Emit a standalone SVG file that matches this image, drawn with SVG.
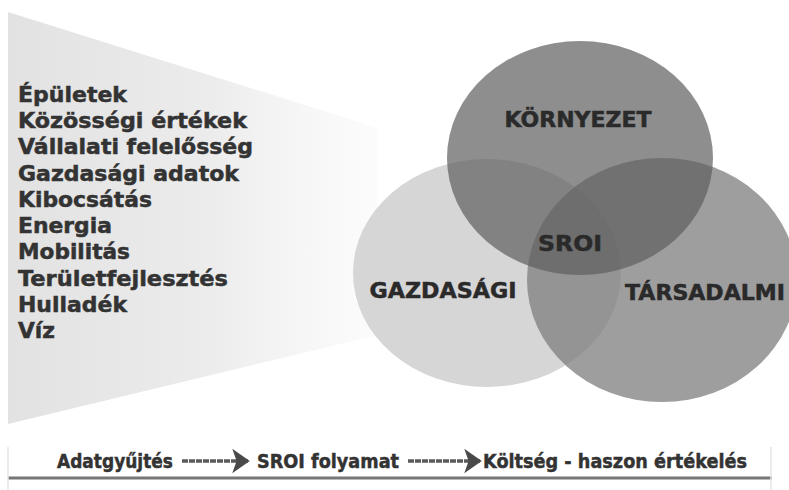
<svg xmlns="http://www.w3.org/2000/svg" width="789" height="490" viewBox="0 0 789 490">
<defs>
<style>
.lst{font-family:"DejaVu Sans",Verdana,sans-serif;font-weight:bold;font-size:21px;fill:#333;stroke:#333;stroke-width:0.5}
.lbl{font-family:"DejaVu Sans",Verdana,sans-serif;font-weight:bold;font-size:21px;fill:#2a2a2a;stroke:#2a2a2a;stroke-width:0.5}
.bot{font-family:"DejaVu Sans",Verdana,sans-serif;font-weight:bold;font-size:20px;fill:#333;stroke:#333;stroke-width:0.5}
.conn{stroke:#5a5a5a;stroke-width:3.5;stroke-dasharray:6 1;fill:none}
</style>
<linearGradient id="fan" x1="0" y1="0" x2="1" y2="0">
<stop offset="0" stop-color="#e2e2e2"/>
<stop offset="0.55" stop-color="#ececec"/>
<stop offset="1" stop-color="#f4f4f4" stop-opacity="0.3"/>
</linearGradient>
<marker id="ah" viewBox="0 0 10 10" preserveAspectRatio="none" refX="9" refY="5" markerWidth="5" markerHeight="7" markerUnits="strokeWidth" orient="auto">
<path d="M0,0 L10,5 L0,10 L2.5,5 Z" fill="#4a4a4a"/>
</marker>
</defs>
<rect width="789" height="490" fill="#ffffff"/>
<g id="fan-bg">
<polygon points="8,12 378,128 378,335 8,424" fill="url(#fan)"/>
</g>
<g id="list">
<text class="lst" x="18" y="102" textLength="109" lengthAdjust="spacingAndGlyphs">Épületek</text>
<text class="lst" x="18" y="128" textLength="229" lengthAdjust="spacingAndGlyphs">Közösségi értékek</text>
<text class="lst" x="18" y="154" textLength="235" lengthAdjust="spacingAndGlyphs">Vállalati felelősség</text>
<text class="lst" x="18" y="181" textLength="221" lengthAdjust="spacingAndGlyphs">Gazdasági adatok</text>
<text class="lst" x="18" y="207" textLength="134" lengthAdjust="spacingAndGlyphs">Kibocsátás</text>
<text class="lst" x="18" y="233" textLength="94" lengthAdjust="spacingAndGlyphs">Energia</text>
<text class="lst" x="18" y="259" textLength="112" lengthAdjust="spacingAndGlyphs">Mobilitás</text>
<text class="lst" x="18" y="286" textLength="210" lengthAdjust="spacingAndGlyphs">Területfejlesztés</text>
<text class="lst" x="18" y="312" textLength="109" lengthAdjust="spacingAndGlyphs">Hulladék</text>
<text class="lst" x="18" y="338" textLength="37" lengthAdjust="spacingAndGlyphs">Víz</text>
</g>
<g id="gazdasagi">
<ellipse cx="487" cy="273" rx="134" ry="114" fill="#d6d6d6"/>
</g>
<g id="tarsadalmi">
<ellipse cx="662" cy="280" rx="135" ry="122" fill="#7e7e7e" fill-opacity="0.75"/>
</g>
<g id="kornyezet">
<ellipse cx="580" cy="158" rx="133" ry="117" fill="#5e5e5e" fill-opacity="0.7"/>
</g>
<g id="labels">
<text class="lbl" x="578" y="127" text-anchor="middle" textLength="147" lengthAdjust="spacingAndGlyphs">KÖRNYEZET</text>
<text class="lbl" x="570" y="251" text-anchor="middle" textLength="64" lengthAdjust="spacingAndGlyphs">SROI</text>
<text class="lbl" x="443" y="298" text-anchor="middle" textLength="147" lengthAdjust="spacingAndGlyphs">GAZDASÁGI</text>
<text class="lbl" x="705" y="300" text-anchor="middle" textLength="160" lengthAdjust="spacingAndGlyphs">TÁRSADALMI</text>
</g>
<g id="timeline">
<line x1="8" y1="478" x2="772" y2="478" stroke="#777" stroke-width="3"/>
<line x1="8" y1="447" x2="8" y2="490" stroke="#e4e4e4" stroke-width="1.5"/>
<line x1="771" y1="447" x2="771" y2="490" stroke="#e4e4e4" stroke-width="1.5"/>
</g>
<g id="step1"><text class="bot" x="57" y="468" textLength="116" lengthAdjust="spacingAndGlyphs">Adatgyűjtés</text></g>
<g id="step2"><text class="bot" x="257" y="468" textLength="142" lengthAdjust="spacingAndGlyphs">SROI folyamat</text></g>
<g id="step3"><text class="bot" x="483" y="468" textLength="264" lengthAdjust="spacingAndGlyphs">Költség - haszon értékelés</text></g>
<g id="connectors">
<line class="conn" x1="182" y1="461" x2="248" y2="461" marker-end="url(#ah)"/>
<line class="conn" x1="408" y1="461" x2="480" y2="461" marker-end="url(#ah)"/>
</g>
</svg>
